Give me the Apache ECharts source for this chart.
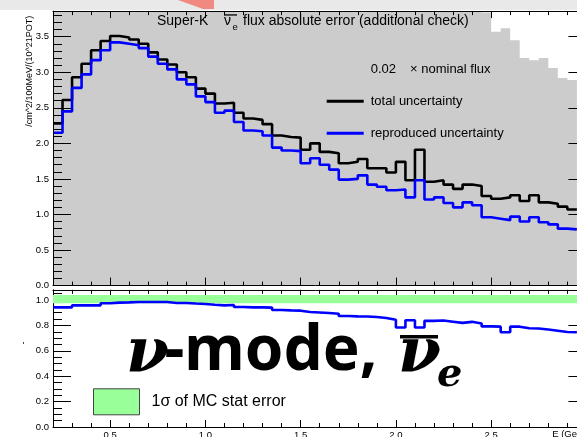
<!DOCTYPE html>
<html>
<head>
<meta charset="utf-8">
<script src="https://cdn.jsdelivr.net/npm/echarts@6/dist/echarts.min.js"></script>
<style>
  html, body { margin: 0; padding: 0; background: #ffffff; }
  #chart { width: 577px; height: 437px; }
</style>
</head>
<body>
<div id="chart"></div>
<script>
// Histogram bin edges (GeV), 0.05 GeV bins
const binEdges = [0.20, 0.25, 0.30, 0.35, 0.40, 0.45, 0.50, 0.55, 0.60, 0.65,
  0.70, 0.75, 0.80, 0.85, 0.90, 0.95, 1.00, 1.05, 1.10, 1.15,
  1.20, 1.25, 1.30, 1.35, 1.40, 1.45, 1.50, 1.55, 1.60, 1.65,
  1.70, 1.75, 1.80, 1.85, 1.90, 1.95, 2.00, 2.05, 2.10, 2.15,
  2.20, 2.25, 2.30, 2.35, 2.40, 2.45, 2.50, 2.55, 2.60, 2.65,
  2.70, 2.75, 2.80, 2.85, 2.90, 2.95];

// Total flux uncertainty per bin
const totalUncertainty = [2.28, 2.61, 2.93, 3.12, 3.31, 3.44, 3.51, 3.49, 3.46, 3.40,
  3.28, 3.18, 3.11, 3.00, 2.93, 2.77, 2.70, 2.56, 2.57, 2.43,
  2.35, 2.33, 2.27, 2.11, 2.09, 2.08, 1.91, 2.00, 1.88, 1.86,
  1.72, 1.74, 1.78, 1.65, 1.65, 1.59, 1.74, 1.48, 1.91, 1.46,
  1.48, 1.42, 1.36, 1.42, 1.40, 1.26, 1.22, 1.24, 1.27, 1.19,
  1.27, 1.17, 1.15, 1.11, 1.07];

// Reproduced uncertainty per bin
const reproducedUncertainty = [2.15, 2.45, 2.78, 2.97, 3.17, 3.31, 3.42, 3.40, 3.38, 3.34,
  3.22, 3.12, 3.04, 2.90, 2.83, 2.66, 2.58, 2.43, 2.46, 2.30,
  2.18, 2.17, 2.11, 1.94, 1.90, 1.89, 1.72, 1.79, 1.70, 1.63,
  1.49, 1.50, 1.55, 1.42, 1.39, 1.34, 1.35, 1.24, 1.48, 1.21,
  1.24, 1.16, 1.10, 1.17, 1.13, 0.96, 0.94, 0.92, 0.97, 0.90,
  0.96, 0.89, 0.86, 0.80, 0.79];

// 0.02 x nominal flux per bin (runs off the top of the frame below 2.5 GeV)
const scaledNominalFlux = [9.5, 14.2, 19.8, 25.1, 29.4, 32.0, 33.1, 32.6, 31.0, 28.7,
  26.0, 23.2, 20.6, 18.3, 16.2, 14.5, 13.0, 11.7, 10.6, 9.7,
  8.9, 8.2, 7.6, 7.1, 6.7, 6.3, 6.0, 5.7, 5.5, 5.3,
  5.1, 4.95, 4.8, 4.7, 4.6, 4.5, 4.4, 4.35, 4.3, 4.2,
  4.15, 4.1, 4.05, 4.0, 3.92, 3.84, 3.57, 3.62, 3.45, 3.20,
  3.17, 3.20, 3.06, 2.92, 2.89];

// Reproduced / total ratio per bin
const uncertaintyRatio = [0.942, 0.942, 0.958, 0.958, 0.958, 0.974, 0.979, 0.981, 0.984, 0.984,
  0.984, 0.984, 0.976, 0.976, 0.972, 0.969, 0.963, 0.958, 0.961, 0.945,
  0.942, 0.942, 0.940, 0.921, 0.918, 0.916, 0.906, 0.902, 0.898, 0.892,
  0.874, 0.871, 0.870, 0.866, 0.858, 0.845, 0.783, 0.840, 0.783, 0.836,
  0.838, 0.829, 0.820, 0.828, 0.815, 0.792, 0.790, 0.746, 0.790, 0.777,
  0.775, 0.768, 0.758, 0.748, 0.746];

// 1 sigma MC statistical error band
const statBandEnergy = [0.2, 3.0];
const statBandRange = [0.974, 1.040];

// Axis ranges and tick labels
const energyRange = [0.2, 3.0];
const fluxRange = [0, 3.86];
const ratioRange = [0, 1.08];
const energyLabels = [0.5, 1.0, 1.5, 2.0, 2.5, 3.0];
const fluxLabels = [0, 0.5, 1.0, 1.5, 2.0, 2.5, 3.0, 3.5];
const ratioLabels = [0, 0.2, 0.4, 0.6, 0.8, 1.0];

function seq(from, to, step) {
  const out = [];
  const n = Math.round((to - from) / step);
  for (let i = 0; i <= n; i++) out.push(+(from + i * step).toFixed(4));
  return out;
}
const energyMinor = seq(0.2, 3.0, 0.1);
const fluxMinor = seq(0, 3.8, 0.1);
const ratioMinor = seq(0, 1.05, 0.05);

// Turn per-bin values into outline points of a histogram
function histOutline(values) {
  const pts = [];
  values.forEach((v, i) => {
    pts.push([binEdges[i], v]);
    pts.push([binEdges[i + 1], v]);
  });
  return pts;
}

const FONT = 'Liberation Sans';
const LABEL_SIZE = 9.5;

function axis(o) {
  return {
    type: 'value',
    gridIndex: o.grid,
    position: o.pos,
    min: o.range[0],
    max: o.range[1],
    z: o.z,
    axisLine: { show: o.line !== false, onZero: false, lineStyle: { color: '#000', width: 1 } },
    axisTick: { show: true, inside: true, length: o.len, customValues: o.ticks,
      lineStyle: { color: '#000', width: 1 } },
    axisLabel: o.labels ? {
      show: true, customValues: o.labels, formatter: v => v.toFixed(1),
      fontSize: LABEL_SIZE, fontFamily: FONT, color: '#000', margin: o.margin
    } : { show: false },
    splitLine: { show: false },
    minorTick: { show: false },
    minorSplitLine: { show: false }
  };
}

const PX_PER_GEV = 190.5;
const gridLeft = 53;
const gridWidth = (energyRange[1] - energyRange[0]) * PX_PER_GEV;

const upperBottom = 285.55, upperScale = 71.1;
const lowerBottom = 427, lowerScale = 127;

const option = {
  animation: false,
  backgroundColor: '#ffffff',
  grid: [
    { left: gridLeft, top: upperBottom - fluxRange[1] * upperScale, width: gridWidth,
      height: fluxRange[1] * upperScale, containLabel: false, outerBoundsMode: 'none' },
    { left: gridLeft, top: lowerBottom - ratioRange[1] * lowerScale, width: gridWidth,
      height: ratioRange[1] * lowerScale, containLabel: false, outerBoundsMode: 'none' }
  ],
  xAxis: [
    axis({ grid: 0, pos: 'bottom', range: energyRange, len: 8, ticks: energyLabels, z: 5 }),
    axis({ grid: 0, pos: 'bottom', range: energyRange, len: 4, ticks: energyMinor, line: false, z: 5 }),
    axis({ grid: 0, pos: 'top', range: energyRange, len: 7, ticks: energyLabels, z: 5 }),
    axis({ grid: 0, pos: 'top', range: energyRange, len: 4, ticks: energyMinor, line: false, z: 5 }),
    axis({ grid: 1, pos: 'bottom', range: energyRange, len: 7, ticks: energyLabels,
      labels: energyLabels, margin: 3, z: 0 }),
    axis({ grid: 1, pos: 'bottom', range: energyRange, len: 4, ticks: energyMinor, line: false, z: 0 }),
    axis({ grid: 1, pos: 'top', range: energyRange, len: 7, ticks: energyLabels, z: 0 }),
    axis({ grid: 1, pos: 'top', range: energyRange, len: 4, ticks: energyMinor, line: false, z: 0 })
  ],
  yAxis: [
    axis({ grid: 0, pos: 'left', range: fluxRange, len: 18, ticks: fluxLabels,
      labels: fluxLabels, margin: 4, z: 5 }),
    axis({ grid: 0, pos: 'left', range: fluxRange, len: 9, ticks: fluxMinor, line: false, z: 5 }),
    axis({ grid: 0, pos: 'right', range: fluxRange, len: 18, ticks: fluxLabels, z: 5 }),
    axis({ grid: 0, pos: 'right', range: fluxRange, len: 9, ticks: fluxMinor, line: false, z: 5 }),
    axis({ grid: 1, pos: 'left', range: ratioRange, len: 18, ticks: ratioLabels,
      labels: ratioLabels, margin: 4, z: 0 }),
    axis({ grid: 1, pos: 'left', range: ratioRange, len: 9, ticks: ratioMinor, line: false, z: 0 }),
    axis({ grid: 1, pos: 'right', range: ratioRange, len: 18, ticks: ratioLabels, z: 0 }),
    axis({ grid: 1, pos: 'right', range: ratioRange, len: 9, ticks: ratioMinor, line: false, z: 0 })
  ],
  legend: [
    {
      orient: 'vertical', left: 326.7, top: 62.3, padding: 0,
      itemWidth: 37, itemHeight: 3, itemGap: 18, selectedMode: false,
      itemStyle: { borderWidth: 0 },
      data: [
        { name: '0.02 × nominal flux', icon: 'rect' },
        { name: 'total uncertainty', icon: 'rect' },
        { name: 'reproduced uncertainty', icon: 'rect' }
      ],
      formatter: name => name === '0.02 × nominal flux'
        ? '{num|0.02}{txt|× nominal flux}' : name,
      textStyle: {
        fontFamily: FONT, fontSize: 13, color: '#000', lineHeight: 14, padding: [0, 0, 0, 2],
        rich: {
          num: { fontFamily: FONT, fontSize: 13, color: '#000', lineHeight: 14 },
          txt: { fontFamily: FONT, fontSize: 13, color: '#000', lineHeight: 14, padding: [0, 0, 0, 14] }
        }
      }
    },
    {
      orient: 'vertical', left: 93, top: 388.3, padding: 0,
      itemWidth: 46, itemHeight: 26, selectedMode: false,
      data: [{ name: '1σ of MC stat error', icon: 'rect',
        itemStyle: { color: '#99ff99', borderColor: '#444444', borderWidth: 1 } }],
      textStyle: { fontFamily: FONT, fontSize: 16, color: '#000', padding: [6, 0, 0, 7] }
    }
  ],
  series: [
    {
      name: '0.02 × nominal flux', type: 'line', xAxisIndex: 0, yAxisIndex: 0,
      data: histOutline(scaledNominalFlux), symbol: 'none', silent: true, clip: true,
      lineStyle: { width: 0, color: '#cccccc' }, itemStyle: { color: '#cccccc' },
      areaStyle: { color: '#cccccc', opacity: 1 }, z: 1
    },
    {
      name: 'total uncertainty', type: 'line', xAxisIndex: 0, yAxisIndex: 0,
      data: histOutline(totalUncertainty), symbol: 'none', silent: true, clip: true,
      lineStyle: { width: 2.6, color: '#000000' }, itemStyle: { color: '#000000' }, z: 2
    },
    {
      name: 'reproduced uncertainty', type: 'line', xAxisIndex: 0, yAxisIndex: 0,
      data: histOutline(reproducedUncertainty), symbol: 'none', silent: true, clip: true,
      lineStyle: { width: 2.6, color: '#0000ff' }, itemStyle: { color: '#0000ff' }, z: 3
    },
    {
      name: '1σ of MC stat error', type: 'custom', xAxisIndex: 4, yAxisIndex: 4,
      silent: true, clip: true, z: 1,
      itemStyle: { color: '#99ff99' },
      encode: { x: [0, 1], y: [2, 3] },
      data: [[statBandEnergy[0], statBandEnergy[1], statBandRange[0], statBandRange[1]]],
      renderItem: (params, api) => {
        const a = api.coord([api.value(0), api.value(3)]);
        const b = api.coord([api.value(1), api.value(2)]);
        return { type: 'rect', shape: { x: a[0], y: a[1], width: b[0] - a[0], height: b[1] - a[1] },
          style: { fill: '#99ff99' } };
      }
    },
    {
      name: 'ratio', type: 'line', xAxisIndex: 4, yAxisIndex: 4,
      data: histOutline(uncertaintyRatio), symbol: 'none', silent: true, clip: true,
      lineStyle: { width: 2.6, color: '#0000ff' }, itemStyle: { color: '#0000ff' }, z: 3
    }
  ],
  graphic: {
    elements: [
      // window strip along the top edge
      { type: 'rect', z: 100, shape: { x: 0, y: 0, width: 577, height: 10 },
        style: { fill: '#e9e9e9' } },
      { type: 'polygon', z: 101, shape: { points: [[178, 0], [214, 0], [214, 9], [203, 9]] },
        style: { fill: '#f08a80' } },
      // title
      { type: 'text', z: 100, x: 157, y: 21.6,
        style: { text: 'Super-K', fill: '#000', fontFamily: FONT, fontSize: 14,
          align: 'left', verticalAlign: 'middle' } },
      { type: 'text', z: 100, x: 224, y: 21.6,
        style: { text: 'ν', fill: '#000', fontFamily: FONT, fontSize: 14,
          align: 'left', verticalAlign: 'middle' } },
      { type: 'rect', z: 100, shape: { x: 224, y: 14.3, width: 13, height: 1.3 },
        style: { fill: '#000' } },
      { type: 'text', z: 100, x: 232.5, y: 27.5,
        style: { text: 'e', fill: '#000', fontFamily: FONT, fontSize: 9.5,
          align: 'left', verticalAlign: 'middle' } },
      { type: 'text', z: 100, x: 243, y: 21.6,
        style: { text: 'flux absolute error (additional check)', fill: '#000', fontFamily: FONT,
          fontSize: 14, align: 'left', verticalAlign: 'middle' } },
      // y axis title of the flux pad
      { type: 'text', z: 100, x: 30, y: 126.7, rotation: Math.PI / 2,
        style: { text: '/cm^2/100MeV/(10^21POT)', fill: '#000', fontFamily: FONT, fontSize: 9,
          align: 'left', verticalAlign: 'middle' } },
      // y axis title of the ratio pad
      { type: 'text', z: 100, x: 23.5, y: 343, rotation: Math.PI / 2,
        style: { text: '-', fill: '#000', fontFamily: FONT, fontSize: 9,
          align: 'center', verticalAlign: 'middle' } },
      // x axis title
      { type: 'text', z: 100, x: 586.5, y: 434.5,
        style: { text: 'E (GeV)', fill: '#000', fontFamily: FONT, fontSize: LABEL_SIZE,
          align: 'right', verticalAlign: 'middle' } },
      // pad edge trimming the lowest flux label
      { type: 'rect', z: 90, shape: { x: 0, y: 288.3, width: 52, height: 2.5 },
        style: { fill: '#ffffff' } },
      // mode annotation
      { type: 'text', z: 110, x: 126, y: 354.5,
        style: { text: 'ν', fill: '#000', fontFamily: 'DejaVu Serif', fontSize: 62,
          fontStyle: 'italic', fontWeight: 'bold', align: 'left', verticalAlign: 'middle' } },
      { type: 'text', z: 110, x: 164.5, y: 352,
        style: { text: '-mode,', fill: '#000', fontFamily: 'Noto Sans', fontSize: 62,
          fontWeight: 'bold', align: 'left', verticalAlign: 'middle' } },
      { type: 'text', z: 110, x: 398, y: 354.5,
        style: { text: 'ν', fill: '#000', fontFamily: 'DejaVu Serif', fontSize: 62,
          fontStyle: 'italic', fontWeight: 'bold', align: 'left', verticalAlign: 'middle' } },
      { type: 'rect', z: 110, shape: { x: 400, y: 335, width: 38, height: 3.5 },
        style: { fill: '#000' } },
      { type: 'text', z: 110, x: 437, y: 376,
        style: { text: 'e', fill: '#000', fontFamily: 'DejaVu Serif', fontSize: 40,
          fontStyle: 'italic', fontWeight: 'bold', align: 'left', verticalAlign: 'middle' } }
    ]
  }
};

const chart = echarts.init(document.getElementById('chart'), null, { renderer: 'canvas' });
chart.setOption(option);
</script>
</body>
</html>
